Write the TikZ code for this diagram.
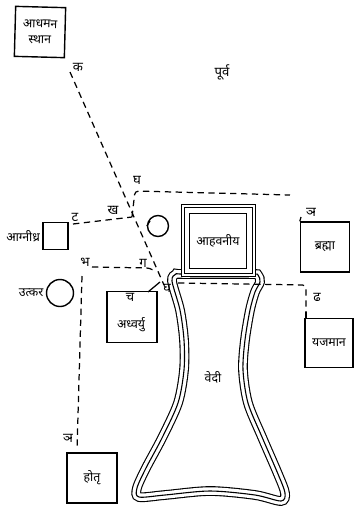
\documentclass[tikz,border=0pt]{standalone}
\usepackage{fontspec}
\setmainfont[Script=Devanagari]{Noto Sans}
\usetikzlibrary{positioning}
\tikzset{hut/.style={draw,line width=.8pt,inner sep=0pt,align=center,font=\fontsize{7}{9}\selectfont},
 pit/.style={draw,circle,line width=.8pt,inner sep=0pt},
 wall/.style={draw,line width=.5pt,inner sep=0pt,fill=white},
 lbl/.style={inner sep=0pt,font=\fontsize{7}{9}\selectfont},
 ltr/.style={inner sep=0pt,font=\bfseries\fontsize{7.5}{9}\selectfont},
 walk/.style={line width=.7pt,dash pattern=on 3.6pt off 2.6pt,rounded corners=2pt},
 tick/.style={line width=.7pt}}
\begin{document}
\begin{tikzpicture}[x=.2mm,y=-.2mm]
\useasboundingbox (0,0) rectangle (355,508);
% vedi
\foreach \w/\c in {1.95mm/black,1.5mm/white,.22mm/black}
 \draw[line width=\w,color=\c] plot[smooth cycle,tension=.5] coordinates {(183,274) (176,274) (172,281) (180,310) (184,340)
  (184,370) (178,403) (162,438) (146,468) (137,488) (139,497) (165,495) (210,491) (255,495) (281,501) (285,493)
  (278,474) (262,437) (248,403) (243,370) (245,340) (250,310) (255,292) (260,282) (258,275) (250,274)};
\node[wall,minimum width=14.8mm,minimum height=14.4mm] (ahout) at (218,240) {};
\node[wall,minimum width=13.6mm,minimum height=13.2mm] (ahmid) at (218,240) {};
\node[wall,minimum width=11.4mm,minimum height=11mm,font=\fontsize{7}{9}\selectfont] (ahav) at (218,241) {आहवनीय};
\node[lbl] (vedi) at (213,377) {वेदी};
% boxes
\node[hut,minimum size=10mm,rotate=-1.5] (agaman) at (40,32) {आधमन\\स्थान};
\node[hut,minimum width=5mm,minimum height=5.4mm] (agni) at (55.5,236) {};
\node[hut,minimum width=10mm,minimum height=10.2mm] (adhv) at (132,317) {};
\node[hut,minimum width=9.8mm,minimum height=10mm] (brahma) at (325,247) {ब्रह्मा};
\node[hut,minimum width=9.6mm,minimum height=9.8mm] (yaj) at (329,343) {यजमान};
\node[hut,minimum size=10mm] (hotr) at (92,478) {होतृ};
\node[lbl] (adhvt) at (131,325) {अध्वर्यु};
\node[pit,minimum size=4.2mm] (cpit) at (158,226) {};
\node[pit,minimum size=5.4mm] (utk) at (60,293) {};
\node[lbl,left=.4mm of agni] (agnit) {आग्नीध्र};
\node[lbl,left=.4mm of utk] (utkt) {उत्कर};
\node[ltr] (east) at (222,72) {पूर्व};
% letters
\node[ltr] (ka) at (78,67) {क};
\node[ltr] (gha) at (137,180) {घ};
\node[ltr] (kha) at (113,210) {ख};
\node[ltr] (tta) at (75,217) {ट};
\node[ltr] (bha) at (85,262) {भ};
\node[ltr] (ga) at (143,263) {ग};
\node[ltr] (ghb) at (167,288) {घ};
\node[ltr] (ca) at (130,297) {च};
\node[ltr] (nya) at (311,212) {ञ};
\node[ltr] (dha) at (317,297) {ढ};
\node[ltr] (nyb) at (68,438) {ञ};
% junctions
\coordinate (jtop) at (70,72);
\coordinate (jkh) at (132,217);
\coordinate (jg) at (156,272);
\coordinate (jend) at (164,285);
\coordinate (jbh) at (92,267);
\coordinate (jv) at (82,276);
\coordinate (jhot) at (77,450);
\coordinate (jr) at (178,283);
\coordinate (jya) at (306,312);
\coordinate (jbr) at (301,217);
\coordinate (jtt) at (73,224);
\coordinate (jc) at (150,221);
\coordinate (jad) at (148,292);
\coordinate (jeast) at (290,195);
\draw[walk] (jtop) -- (jend);
\draw[walk] (jtt) -- (jkh);
\draw[walk] (jkh) -- (135,191) -- (jeast);
\draw[walk] (jbh) -- (150,268) -- (jg);
\draw[walk] (jv) -- (jhot);
\draw[walk] (jr) -- (306,285) -- (jya);
\draw[tick] (jad) -- (160,282);
\draw[tick] (jbr) -- (brahma.north west);
\draw[tick] (jya) -- (yaj.north west -| jya);
\draw[tick] (jc) -- (cpit.west);
\end{tikzpicture}
\end{document}
